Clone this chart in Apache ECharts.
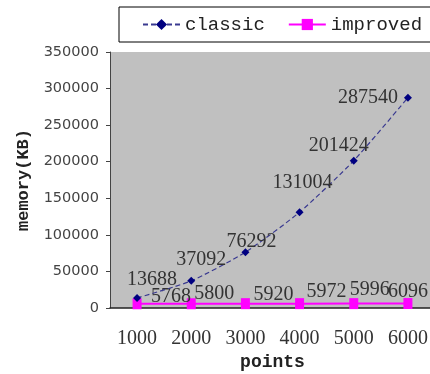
<!DOCTYPE html>
<html>
<head>
<meta charset="utf-8">
<script src="https://cdn.jsdelivr.net/npm/echarts@6/dist/echarts.min.js"></script>
<style>
  html, body { margin: 0; padding: 0; background: #fff; }
  #chart { width: 430px; height: 374px; }
</style>
</head>
<body>
<div id="chart"></div>
<script>
// chart data
var points = ['1000', '2000', '3000', '4000', '5000', '6000'];
var classicMem = [13688, 37092, 76292, 131004, 201424, 287540];
var improvedMem = [5768, 5800, 5920, 5972, 5996, 6096];
var yTicks = [0, 350000, 50000]; // min, max, step

// label nudges (pixels) so the numbers sit where the original put them
var classicOffsets = [[15, -18], [10, -21], [6, -10], [3, -29], [-15, -15], [-40, 0]];
var improvedOffsets = [[34, -7], [23, -10], [28, -9], [27, -12], [16, -14], [0, -12]];

var chart = echarts.init(document.getElementById('chart'));

var digitFont = 'Liberation Serif';
var wordFont = 'Liberation Mono';

function withLabels(values, offsets) {
    return values.map(function (v, i) {
        return {value: v, label: {offset: offsets[i]}};
    });
}

var option = {
    animation: false,
    backgroundColor: '#fff',
    legend: {
        orient: 'horizontal',
        left: 119,
        top: 7,
        width: 420,
        padding: [8, 40, 8, 23],
        borderColor: '#000',
        borderWidth: 1,
        borderRadius: 0,
        itemWidth: 37,
        itemHeight: 14,
        itemGap: 23,
        textStyle: {fontFamily: wordFont, fontSize: 19, color: '#222'},
        data: ['classic', 'improved']
    },
    grid: {
        left: 110,
        right: -5,
        top: 52,
        bottom: 66,
        containLabel: false,
        outerBoundsMode: 'none',
        show: true,
        backgroundColor: '#c0c0c0',
        borderWidth: 0
    },
    xAxis: {
        type: 'category',
        data: points,
        boundaryGap: true,
        name: 'points',
        nameLocation: 'middle',
        nameGap: 44,
        nameTextStyle: {fontFamily: wordFont, fontWeight: 'bold', fontSize: 18, color: '#222'},
        axisLine: {lineStyle: {color: '#222', width: 1.5}},
        axisTick: {inside: true, length: 5, lineStyle: {color: '#222'}},
        axisLabel: {fontFamily: digitFont, fontSize: 20, color: '#333', margin: 21},
        splitLine: {show: false}
    },
    yAxis: {
        type: 'value',
        min: yTicks[0],
        max: yTicks[1],
        interval: yTicks[2],
        name: 'memory(KB)',
        nameLocation: 'middle',
        nameGap: 78,
        nameRotate: 90,
        nameTextStyle: {fontFamily: wordFont, fontWeight: 'bold', fontSize: 17, color: '#222'},
        axisLine: {show: true, lineStyle: {color: '#444'}},
        axisTick: {show: true, length: 4, lineStyle: {color: '#444'}},
        axisLabel: {
            fontFamily: 'DejaVu Sans',
            fontSize: 14.5,
            color: '#444',
            margin: 11,
            formatter: function (v) { return String(v); }
        },
        splitLine: {show: false}
    },
    series: [
        {
            name: 'classic',
            type: 'line',
            data: withLabels(classicMem, classicOffsets),
            symbol: 'diamond',
            symbolSize: 8,
            smooth: 0.2,
            itemStyle: {color: '#000080'},
            lineStyle: {color: '#3a3a90', width: 1.2, type: [5, 3]},
            label: {
                show: true,
                position: 'inside',
                fontFamily: digitFont,
                fontSize: 20,
                color: '#333'
            },
            z: 3
        },
        {
            name: 'improved',
            type: 'line',
            data: withLabels(improvedMem, improvedOffsets),
            symbol: 'rect',
            symbolSize: [9, 11],
            itemStyle: {color: '#ff00ff'},
            lineStyle: {color: '#ff00ff', width: 2},
            label: {
                show: true,
                position: 'inside',
                fontFamily: digitFont,
                fontSize: 20,
                color: '#333'
            },
            z: 2
        }
    ]
};

chart.setOption(option);
</script>
</body>
</html>
